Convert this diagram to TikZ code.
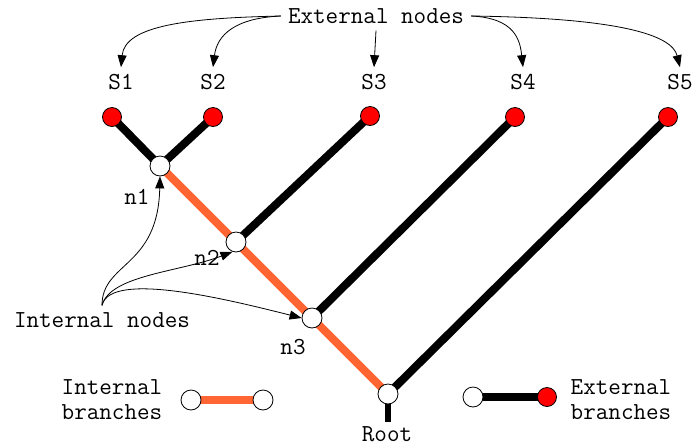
\documentclass[tikz,border=0pt]{standalone}
\usepackage{fontspec}
\usetikzlibrary{arrows.meta,backgrounds}
\definecolor{branchorange}{HTML}{FF6633}
\definecolor{tipred}{HTML}{FF0000}
\tikzset{inode/.style={draw,circle,fill=white,inner sep=0pt,minimum size=10pt,thin},xnode/.style={inode,fill=tipred,minimum size=9.5pt},lbl/.style={font=\ttfamily\fontsize{12.2}{12.5}\selectfont,align=center},ibranch/.style={draw=branchorange,line width=4pt},xbranch/.style={draw=black,line width=4pt},note/.style={draw,thin,-{Triangle[length=6pt,width=4.5pt]}}}

\begin{document}
\begin{tikzpicture}[x=0.5pt,y=-0.5pt]
\useasboundingbox (0,0) rectangle (692,446);
% labels
\node[lbl] (ext) at (376,16) {External nodes};
\node[lbl] (l1) at (121,82) {S1};
\node[lbl] (l2) at (213,82) {S2};
\node[lbl] (l3) at (374,82) {S3};
\node[lbl] (l4) at (523,82) {S4};
\node[lbl] (l5) at (680,82) {S5};
\node[lbl] (int) at (102,320) {Internal nodes};
% tree
\node[xnode] (s1) at (112,117) {};
\node[xnode] (s2) at (213,117) {};
\node[xnode] (s3) at (370,116) {};
\node[xnode] (s4) at (515,117) {};
\node[xnode] (s5) at (668,117) {};
\node[inode] (n1) at (160,166) {};
\node[inode] (n2) at (236,242) {};
\node[inode] (n3) at (312,318) {};
\node[inode] (rt) at (388,394) {};
\coordinate (rtend) at (388,422);
\node[lbl] (ln1) at (137,197) {n1};
\node[lbl] (ln2) at (207,258) {n2};
\node[lbl] (ln3) at (293,347) {n3};
\node[lbl,inner sep=1pt] (lrt) at (387,434) {Root};
% legend
\node[inode] (li1) at (191,400) {};
\node[inode] (li2) at (263,400) {};
\node[inode] (le1) at (473,397) {};
\node[xnode] (le2) at (547,397) {};
\node[lbl] (lint) at (112,400) {Internal\\branches};
\node[lbl] (lext) at (621,400) {External\\branches};
\begin{scope}[on background layer]
\foreach \a/\b in {s1/n1,s2/n1,s3/n2,s4/n3,s5/rt,le1/le2}\draw[xbranch] (\a.center)--(\b.center);
\foreach \a/\b in {n1/n2,n2/n3,n3/rt,li1/li2}\draw[ibranch] (\a.center)--(\b.center);
\draw[xbranch,line width=3pt] (rt.center)--(rtend);
\end{scope}
% pointers
\draw[note] (ext.west) .. controls (190,18) and (125,25) .. (l1.north);
\draw[note] (ext.west) .. controls (235,18) and (217,35) .. (l2.north);
\draw[note] (ext.south) -- (l3.north);
\draw[note] (ext.east) .. controls (515,18) and (520,40) .. (l4.north);
\draw[note] (ext.east) .. controls (620,18) and (672,35) .. (l5.north);
\draw[note] (int.north) .. controls (102,262) and (158,268) .. (n1.south);
\draw[note] (int.north) .. controls (110,275) and (180,272) .. (n2.250);
\draw[note] (int.north) .. controls (110,270) and (230,300) .. (n3.west);
\end{tikzpicture}
\end{document}
